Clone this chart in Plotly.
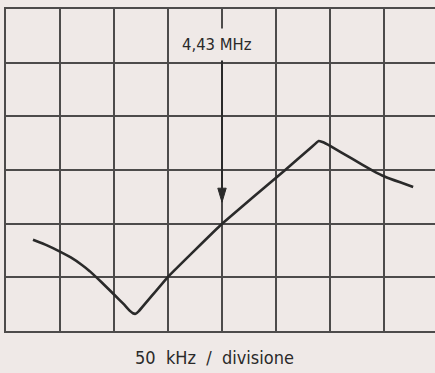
import plotly.graph_objects as go

# Curve (x in divisions of 50 kHz, y in vertical divisions)
freq_div = [0.50, 0.75, 0.99, 1.20, 1.40, 1.55, 1.68, 1.85, 2.01, 2.19, 2.30, 2.35, 2.40, 2.46,
            3.00, 3.99, 5.16, 5.65, 5.79, 5.86, 6.01, 6.40, 6.79, 7.01, 7.30, 7.54]
level_div = [1.70, 1.60, 1.485, 1.37, 1.235, 1.115, 0.995, 0.83, 0.67, 0.49, 0.37, 0.33, 0.32, 0.37,
             1.01, 1.99, 2.99, 3.42, 3.54, 3.52, 3.445, 3.215, 2.99, 2.88, 2.77, 2.685]

marker_label = "4,43 MHz"
marker_x = 4.0
marker_tip_y = 2.40
marker_top_y = 5.07
axis_label = "50  kHz  /  divisione"

W, H = 435, 373
ML, MT, MB = 6, 9, 42
px_x = 54.0
plot_w = W - ML
plot_h = H - MT - MB
x_max = plot_w / px_x
y_max = 6
px_y = plot_h / y_max

bg = "#efe9e7"
ink = "#2a2a2a"
grid = "#4d4b4b"

fig = go.Figure()
fig.add_trace(go.Scatter(x=freq_div, y=level_div, mode="lines",
                         line=dict(color=ink, width=2.6, shape="spline", smoothing=0.2),
                         hoverinfo="skip", showlegend=False))

# arrow shaft + head
head_len = 14 / px_y
head_half = 4.2 / px_x
fig.add_shape(type="line", x0=marker_x, x1=marker_x, y0=marker_top_y, y1=marker_tip_y + head_len,
              line=dict(color=ink, width=2))
fig.add_shape(type="path",
              path=f"M {marker_x - head_half},{marker_tip_y + head_len} L {marker_x + head_half},{marker_tip_y + head_len} L {marker_x},{marker_tip_y} Z",
              fillcolor=ink, line=dict(color=ink, width=1))

fig.add_annotation(x=marker_x - 0.1, y=5.33, xref="x", yref="y", text=marker_label, showarrow=False,
                   font=dict(family="DejaVu Sans Condensed", size=16.5, color=ink),
                   bgcolor=bg, borderpad=6)

# axis caption below the plot (paper coords are relative to the plot area)
fig.add_annotation(x=(214 - ML) / plot_w, y=-(357 - (H - MB)) / plot_h, xref="paper", yref="paper",
                   text=axis_label, showarrow=False, xanchor="center", yanchor="middle",
                   font=dict(family="DejaVu Sans Condensed", size=18, color=ink))

fig.update_xaxes(range=[0, x_max], dtick=1, tick0=0, showgrid=True, gridcolor=grid, gridwidth=2,
                 showline=True, linecolor=grid, linewidth=2, mirror=True,
                 showticklabels=False, ticks="", zeroline=False, fixedrange=True)
fig.update_yaxes(range=[0, y_max], dtick=1, tick0=0, showgrid=True, gridcolor=grid, gridwidth=2,
                 showline=True, linecolor=grid, linewidth=2, mirror=False,
                 showticklabels=False, ticks="", zeroline=False, fixedrange=True)

fig.update_layout(width=W, height=H, margin=dict(l=ML, r=0, t=MT, b=MB),
                  paper_bgcolor=bg, plot_bgcolor=bg)

fig.write_html("out.html", config={"displayModeBar": False},
               post_script="document.body.style.margin='0';document.body.style.background='%s';" % bg)
